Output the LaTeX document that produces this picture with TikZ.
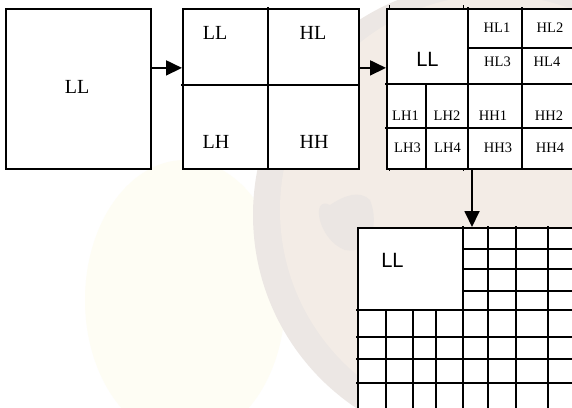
\documentclass[tikz,border=0pt]{standalone}
\usepackage{fontspec}
\setmainfont{Liberation Serif}
\newfontfamily\labsans{DejaVu Sans}
\usetikzlibrary{arrows.meta}
\definecolor{globe}{RGB}{243,236,230}
\definecolor{globeedge}{RGB}{236,231,228}
\definecolor{cream}{RGB}{254,253,244}
\definecolor{land}{RGB}{235,230,227}
\tikzset{
  box/.style={draw=black, line width=1.8pt, fill=white, anchor=north west, inner sep=0pt},
  grid/.style={line width=1.8pt, line cap=rect},
  arr/.style={line width=1.8pt, -{Triangle[length=16pt,width=15pt]}},
  big/.style={font=\fontsize{20}{20}\selectfont, inner sep=0pt},
  small/.style={font=\fontsize{14.5}{14.5}\selectfont, inner sep=0pt},
  bigsans/.style={font=\labsans\fontsize{19.5}{19.5}\selectfont, inner sep=0pt},
}
\begin{document}
\begin{tikzpicture}[x=1pt, y=-1pt]
\useasboundingbox (0,0) rectangle (572,407);
\begin{scope}
\clip (0,0) rectangle (572,407);
% faint globe watermark behind the diagram
\fill[white] (0,0) rectangle (572,407);
\fill[cream] (185,300) ellipse [x radius=100, y radius=140];
\fill[globeedge] (485,215) circle [radius=232];
\fill[globe] (495,210) circle [radius=215];
\fill[land] (330,205) .. controls (310,195) and (318,240) .. (345,250)
  .. controls (370,255) and (380,225) .. (370,200) .. controls (360,190) and (345,195) .. (330,205);

% stage 1: a single LL block
\node[box, minimum width=145pt, minimum height=160pt] (b1) at (5,8) {};
\node[big] (t1) at (77,87) {LL};

% stage 2: one-level decomposition
\node[box, minimum width=176pt, minimum height=160pt] (b2) at (182,8) {};
\draw[grid] (268,8) -- (268,168) (182,85) -- (358,85);
\node[big] (t2a) at (215,33) {LL};
\node[big] (t2b) at (313,33) {HL};
\node[big] (t2c) at (216,142) {LH};
\node[big] (t2d) at (314,142) {HH};

% stage 3: two-level decomposition
\node[box, minimum width=210pt, minimum height=160pt] (b3) at (386,8) {};
\draw[grid] (468,8) -- (468,168) (386,84) -- (596,84)
  (522,8) -- (522,168) (468,48) -- (596,48)
  (426,84) -- (426,168) (386,128) -- (596,128);
\draw[line width=1pt] (389,5) -- (389,8) (463,5) -- (463,8)
  (389,168) -- (389,171) (463,168) -- (463,171);
\node[bigsans] (t3) at (427,59) {LL};
\node[small] (h1) at (497,27.5) {HL1};
\node[small] (h2) at (550,27.5) {HL2};
\node[small] (h3) at (497.5,62) {HL3};
\node[small] (h4) at (547,62) {HL4};
\node[small] (v1) at (405.5,116) {LH1};
\node[small] (v2) at (447,116) {LH2};
\node[small] (d1) at (493,116) {HH1};
\node[small] (d2) at (549,116) {HH2};
\node[small] (v3) at (407.5,148) {LH3};
\node[small] (v4) at (447.5,148) {LH4};
\node[small] (d3) at (498,148) {HH3};
\node[small] (d4) at (550,148) {HH4};

% stage 4: finer decomposition grid
\node[box, minimum width=230pt, minimum height=195pt] (b4) at (357,227) {};
\draw[grid] (463,227) -- (463,310) (357,310) -- (587,310)
  (463,249) -- (587,249) (463,269) -- (587,269) (463,291) -- (587,291)
  (357,337) -- (587,337) (357,359) -- (587,359) (357,383) -- (587,383)
  (386,310) -- (386,422) (413,310) -- (413,422) (436,310) -- (436,422)
  (463,310) -- (463,422)
  (488,227) -- (488,422) (516,227) -- (516,422) (548,227) -- (548,422);
\node[bigsans] (t4) at (392,260) {LL};

% transitions between stages
\draw[arr] ([yshift=21pt]b1.east) -- ([yshift=21pt]b2.west);
\draw[arr] ([yshift=21pt]b2.east) -- ([yshift=21pt]b3.west);
\draw[arr] ([xshift=86pt]b3.south west) -- ([xshift=115pt]b4.north west);
\end{scope}
\end{tikzpicture}
\end{document}
